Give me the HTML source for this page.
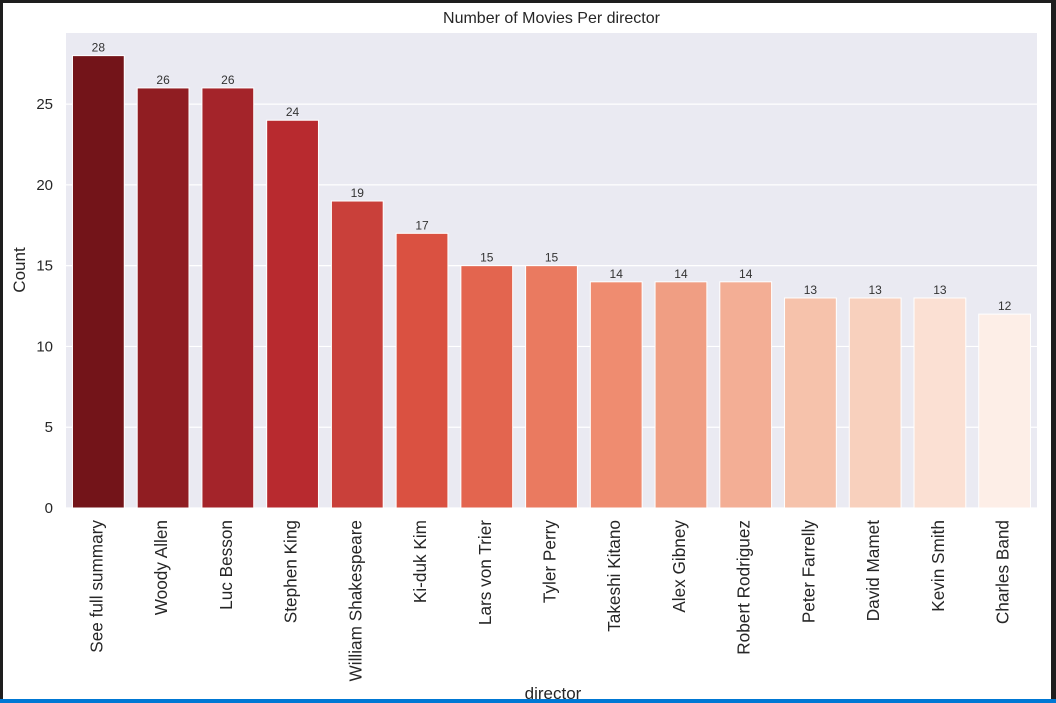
<!DOCTYPE html>
<html><head><meta charset="utf-8"><style>
body{margin:0;background:#1e1e1e;}
#wrap{position:absolute;left:3px;top:3px;width:1048px;height:696px;background:#fff;overflow:hidden}
#blue{position:absolute;left:0;top:699px;width:1056px;height:4px;background:#0078d4}
svg text{font-family:"Liberation Sans",sans-serif;}
</style></head><body>
<div id="wrap"></div>
<div id="blue"></div>
<svg id="chart" width="1056" height="703" style="position:absolute;left:0;top:0"></svg>
<script>
const categories=["See full summary","Woody Allen","Luc Besson","Stephen King","William Shakespeare","Ki-duk Kim","Lars von Trier","Tyler Perry","Takeshi Kitano","Alex Gibney","Robert Rodriguez","Peter Farrelly","David Mamet","Kevin Smith","Charles Band"];
const counts=[28,26,26,24,19,17,15,15,14,14,14,13,13,13,12];
const yTicks=[0,5,10,15,20,25];
const colors=["#731419","#901d22","#a4242a","#b82a2f","#c9403a","#da5141","#e3654f","#ea7a60","#ef8c70","#f09e83","#f3ae95","#f6c2ab","#f8d0bd","#fbe0d3","#fdeee7"];
const svg=document.getElementById('chart');
const NS="http://www.w3.org/2000/svg";
const L=66,R=1037,T=33,B=508,yMax=29.4;
const band=(R-L)/categories.length;
const xs=i=>L+band*i;
const ys=v=>B-(B-T)*v/yMax;
function mk(tag,attrs,parent){const e=document.createElementNS(NS,tag);for(const k in attrs)e.setAttribute(k,attrs[k]);(parent||svg).appendChild(e);return e;}
const bg=mk('rect',{x:L,y:T,width:R-L,height:B-T,fill:'#eaeaf2'});


yTicks.forEach(t=>{
  const g=mk('line',{x1:L,x2:R,y1:ys(t),y2:ys(t),stroke:'#fff','stroke-width':1.2});
  
  
  const tx=mk('text',{x:L-13,y:ys(t)+5,'text-anchor':'end','font-size':15,fill:'#262626'});
  tx.textContent=t;
  
  
});
categories.forEach((c,i)=>{
  const w=band*0.8,x=xs(i)+band*0.1,y=ys(counts[i]);
  const r=mk('rect',{x:x,y:y,width:w,height:B-y,fill:colors[i],stroke:'#fff','stroke-width':1});
  
  
  const v=mk('text',{x:x+w/2,y:y-4,'text-anchor':'middle','font-size':12,fill:'#333'});
  v.textContent=counts[i];
  
  
  const cx=xs(i)+band/2+4;
  const lb=mk('text',{x:cx,y:520,'text-anchor':'end','font-size':17.2,fill:'#262626',transform:`rotate(-90 ${cx} 520)`});
  lb.textContent=c;
  
  
});
const ti=mk('text',{x:(L+R)/2,y:23,'text-anchor':'middle','font-size':16,fill:'#262626'});
ti.textContent="Number of Movies Per director";


const yl=mk('text',{x:25,y:270,'text-anchor':'middle','font-size':17,fill:'#262626',transform:'rotate(-90 25 270)'});
yl.textContent="Count";


const xl=mk('text',{x:553,y:699,'text-anchor':'middle','font-size':17,fill:'#262626'});
xl.textContent="director";


const bl=mk('rect',{x:0,y:699,width:1056,height:4,fill:'#0078d4'});


const rb=mk('rect',{x:1051,y:0,width:5,height:699,fill:'#1e1e1e'});


</script>
</body></html>
